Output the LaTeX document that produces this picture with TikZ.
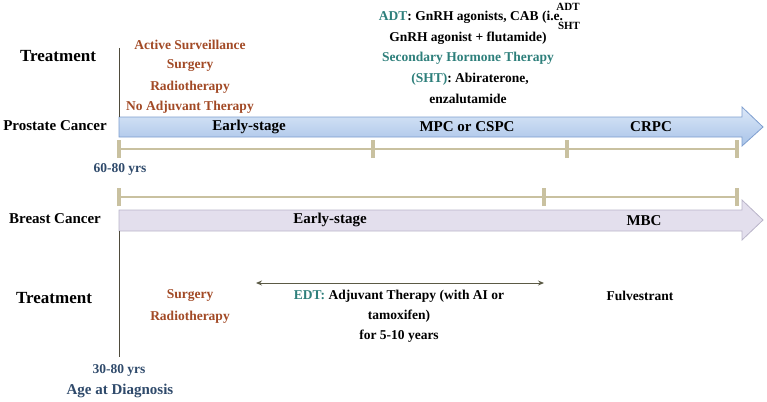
\documentclass[tikz,border=0pt]{standalone}
\usepackage{fontspec}
\setmainfont{Liberation Serif}
\usetikzlibrary{arrows.meta}
\definecolor{rust}{HTML}{A24A26}
\definecolor{tealc}{HTML}{2E7F7B}
\definecolor{navy}{HTML}{2F4A6B}
\definecolor{tan}{HTML}{C9C1A0}
\definecolor{axis}{HTML}{4F4B3C}
\definecolor{blueT}{HTML}{DCE8F8}
\definecolor{blueB}{HTML}{A8C3E8}
\definecolor{blueE}{HTML}{7E9ECF}
\definecolor{lav}{HTML}{E3DFED}
\definecolor{lavE}{HTML}{B9B4C9}
\definecolor{olive}{HTML}{5B5A45}
\tikzset{
  x=1pt,y=-1pt,
  txt/.style={font=\bfseries\fontsize{13.5}{16}\selectfont, inner sep=0pt, align=center},
  big/.style={font=\bfseries\fontsize{15}{18}\selectfont, inner sep=0pt},
  huge/.style={font=\bfseries\fontsize{17}{20}\selectfont, inner sep=0pt},
  rustt/.style={txt, text=rust},
  navyt/.style={txt, text=navy},
  scaleline/.style={draw=tan, line width=1.5pt},
  tickmark/.style={draw=tan, line width=4pt},
}
\begin{document}
\begin{tikzpicture}
\useasboundingbox (0,0) rectangle (767,401);
% prostate arrow
\shade[top color=blueT, bottom color=blueB, draw=blueE, line width=0.8pt]
  (119,117) -- (742,117) -- (742,107) -- (763,127) -- (742,146) -- (742,137) -- (119,137) -- cycle;
% breast arrow
\filldraw[fill=lav, draw=lavE, line width=0.8pt]
  (119,210) -- (742,210) -- (742,200) -- (763,220) -- (742,240) -- (742,231) -- (119,231) -- cycle;
% vertical axis
\coordinate (vtop) at (119,48);
\coordinate (vpa) at (119,117);
\coordinate (vbb) at (119,231);
\coordinate (vbot) at (119,357);
\draw[axis, line width=0.9pt] (vtop) -- (vpa);
\draw[axis, line width=0.9pt] (vbb) -- (vbot);
% prostate scale
\coordinate (p0) at (119,149); \coordinate (p1) at (373,149);
\coordinate (p2) at (567,149); \coordinate (p3) at (737,149);
\draw[scaleline] (p0) -- (p3);
\foreach \c in {p0,p1,p2,p3} \draw[tickmark] ([yshift=-9pt]\c) -- ([yshift=9pt]\c);
% breast scale
\coordinate (b0) at (119,197); \coordinate (b1) at (544,197); \coordinate (b2) at (737,197);
\draw[scaleline] (b0) -- (b2);
\foreach \c in {b0,b1,b2} \draw[tickmark] ([yshift=-9pt]\c) -- ([yshift=9pt]\c);
% left labels
\node[huge] (tr1) at (58,56) {Treatment};
\node[big] (pc) at (55,126) {Prostate Cancer};
\node[big] (bc) at (55,219) {Breast Cancer};
\node[huge] (tr2) at (54,298) {Treatment};
% stage labels
\node[big] (es1) at (249,127) {Early-stage};
\node[big] (mpc) at (467,127) {MPC or CSPC};
\node[big] (crpc) at (651,127) {CRPC};
\node[big] (es2) at (330,220) {Early-stage};
\node[big] (mbc) at (644,221) {MBC};
% prostate treatments
\node[rustt] (as) at (190,45) {Active Surveillance};
\node[rustt] (sg1) at (190,66) {Surgery};
\node[rustt] (rt1) at (190,87) {Radiotherapy};
\node[rustt] (nat) at (190,107) {No Adjuvant Therapy};
\node[txt] (l1) at (471,17) {\textcolor{tealc}{ADT}: GnRH agonists, CAB (i.e.};
\node[txt] (l2) at (468,38) {GnRH agonist + flutamide)};
\node[txt, text=tealc] (l3) at (468,58) {Secondary Hormone Therapy};
\node[txt] (l4) at (470,79) {\textcolor{tealc}{(SHT)}: Abiraterone,};
\node[txt] (l5) at (468,99) {enzalutamide};
\node[font=\bfseries\fontsize{11}{12}\selectfont, inner sep=0pt] (adt) at (568,7) {ADT};
\node[font=\bfseries\fontsize{11}{12}\selectfont, inner sep=0pt] (sht) at (569,26) {SHT};
% ages
\node[navyt] (a1) at (120,169) {60-80 yrs};
\node[navyt] (a2) at (119,370) {30-80 yrs};
\node[navyt, font=\bfseries\fontsize{15}{18}\selectfont] (aad) at (120,391) {Age at Diagnosis};
% breast treatments
\node[rustt] (sg2) at (190,296) {Surgery};
\node[rustt] (rt2) at (190,317) {Radiotherapy};
\coordinate (ea) at (256,283);
\coordinate (eb) at (544,283);
\draw[olive, line width=0.9pt, {Stealth[length=6pt,width=5pt]}-{Stealth[length=6pt,width=5pt]}] (ea) -- (eb);
\node[txt] (e1) at (399,296) {\textcolor{tealc}{EDT:} Adjuvant Therapy (with AI or};
\node[txt] (e2) at (399,316) {tamoxifen)};
\node[txt] (e3) at (399,336) {for 5-10 years};
\node[txt] (fv) at (640,296) {Fulvestrant};
\end{tikzpicture}
\end{document}
